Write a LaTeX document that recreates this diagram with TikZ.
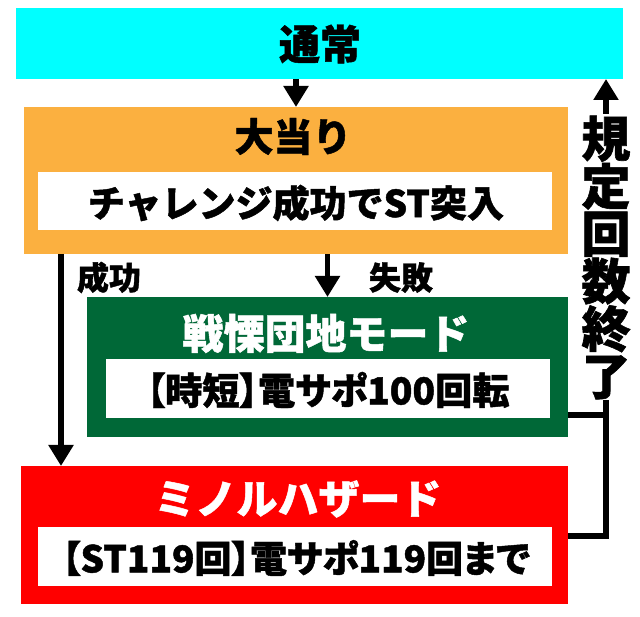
\documentclass[tikz,border=0pt]{standalone}
\usepackage{fontspec}
\usetikzlibrary{arrows.meta}
\newfontfamily\jp{Noto Sans CJK JP}[BoldFeatures={FakeBold=1.2}]
\newfontfamily\jpp{Noto Sans CJK JP}[RawFeature=+palt, BoldFeatures={FakeBold=1.2}]
\newcommand\tightlines{\lineskiplimit=-100pt\relax}
\definecolor{cy}{HTML}{00FFFF}
\definecolor{og}{HTML}{FBB040}
\definecolor{gr}{HTML}{006837}
\definecolor{rd}{HTML}{FF0000}
\tikzset{
  panel/.style={draw=none, inner sep=0pt, outer sep=0pt},
  txt/.style={inner sep=0pt, outer sep=0pt, font=\jp\bfseries\fontsize{#1}{#1}\selectfont},
  ptxt/.style={inner sep=0pt, outer sep=0pt, font=\jpp\bfseries\fontsize{#1}{#1}\selectfont},
  arr/.style={line width=5.5pt, -{Triangle[width=24pt,length=21pt]}},
  ln/.style={line width=6pt}
}
\begin{document}
\begin{tikzpicture}[x=1pt,y=-1pt]
\useasboundingbox (0,0) rectangle (640,617);
% panels
\node[panel, fill=cy, minimum width=607pt, minimum height=71pt] (tsujo) at (319.5,43.5) {};
\node[panel, fill=og, minimum width=544pt, minimum height=147pt] (atari) at (296,180.5) {};
\node[panel, fill=white, minimum width=514pt, minimum height=58pt] (atariin) at (295,201) {};
\node[panel, fill=gr, minimum width=481pt, minimum height=140pt] (senritsu) at (327.5,367) {};
\node[panel, fill=white, minimum width=444pt, minimum height=59pt] (senin) at (328,388.5) {};
\node[panel, fill=rd, minimum width=547pt, minimum height=138pt] (mino) at (294.5,535) {};
\node[panel, fill=white, minimum width=514pt, minimum height=59pt] (minoin) at (295,556.5) {};
% texts
\node[txt=41] (t1) at (320,44) {通常};
\node[txt=39] (t2) at (293,136.5) {大当り};
\node[txt=37] (t3) at (296,203) {チャレンジ成功でST突入};
\node[txt=41, text=white] (t4) at (326,333.5) {戦慄団地モード};
\node[ptxt=37.2] (t5) at (328,390) {【時短】電サポ100回転};
\node[txt=41, text=white] (t6) at (298,499) {ミノルハザード};
\node[ptxt=37] (t7) at (296,558) {【ST119回】電サポ119回まで};
\node[txt=32] (lsuc) at (109,277.5) {成功};
\node[txt=32] (lfail) at (401,277.5) {失敗};
\node[inner sep=0pt, outer sep=0pt, align=center, font=\jp\bfseries\fontsize{49pt}{47.5pt}\selectfont\tightlines] (kitei) at (606,257.5) {規\\定\\回\\数\\終\\了};
% helper coordinates
\coordinate (sx) at (61,0);
\coordinate (rx) at (606,0);
\coordinate (gy) at (0,415);
\coordinate (ry) at (0,536);
\coordinate (vtop) at (606,400);
\coordinate (atop) at (606,114);
% connectors
\draw[arr] (atari.north |- tsujo.south) -- (atari.north);
\draw[arr] (sx |- atari.south) -- (sx |- mino.north);
\draw[arr] (senritsu.north |- atari.south) -- (senritsu.north);
\draw[arr] (atop) -- (atop |- tsujo.south);
\draw[ln] (gy -| senritsu.east) -- (gy -| rx);
\draw[ln] (ry -| mino.east) -| (vtop);
\end{tikzpicture}
\end{document}
